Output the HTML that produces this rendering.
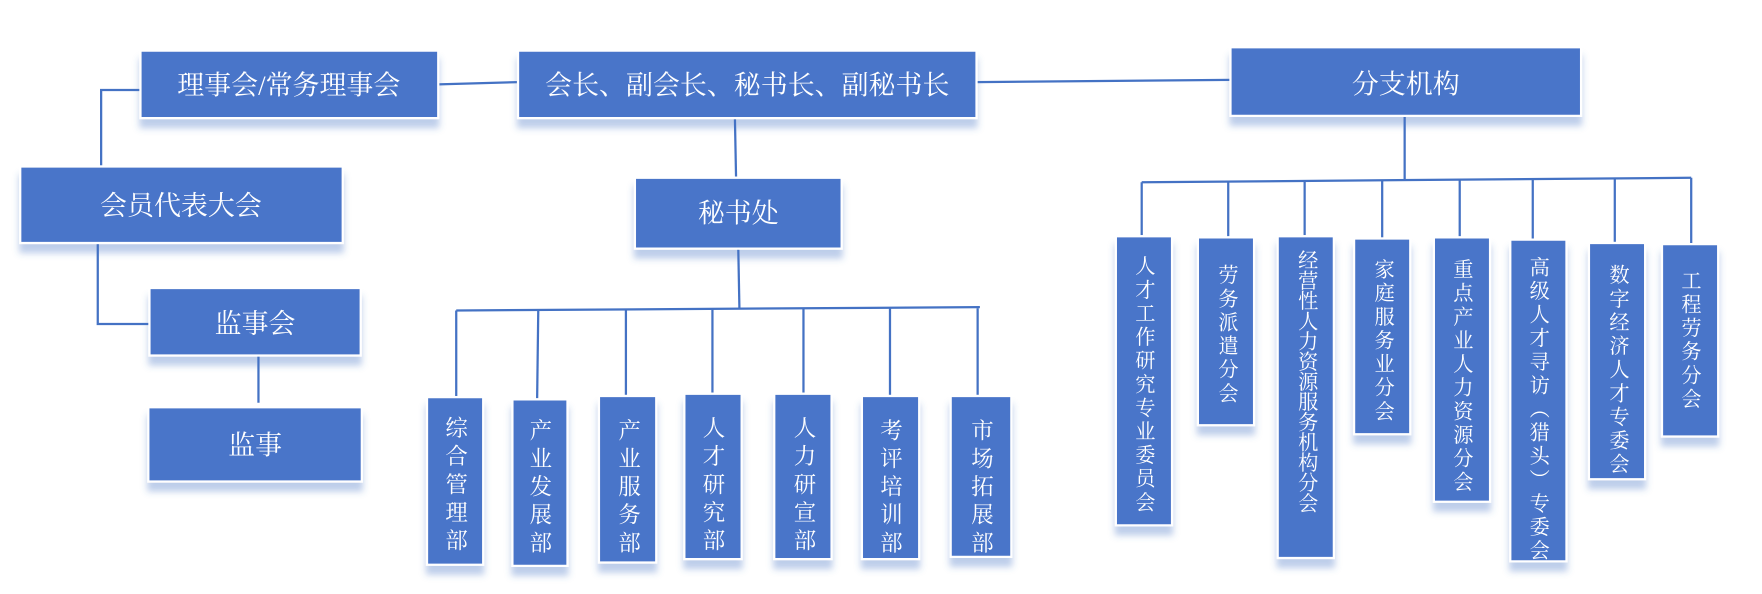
<!DOCTYPE html>
<html><head><meta charset="utf-8"><style>
html,body{margin:0;padding:0;background:#fff;}
svg{display:block;}
text{font-family:"Liberation Serif","Noto Serif CJK SC",serif;fill:#fff;}
.v{writing-mode:vertical-rl;font-size:18px;}
.d{font-size:20px;}
.h{font-size:24px;text-anchor:middle;}
</style></head><body>
<svg width="1762" height="594" viewBox="0 0 1568 528" preserveAspectRatio="none" xmlns="http://www.w3.org/2000/svg">
<defs>
<filter id="sh" x="-20%" y="-20%" width="140%" height="160%">
<feDropShadow dx="0" dy="8" stdDeviation="3" flood-color="#4472c4" flood-opacity="0.35"/>
</filter>
</defs>
<g stroke="#4472c4" stroke-width="2" fill="none">
<polyline points="125,80 90,80 90,147"/>
<polyline points="87,216 87,288 133,288"/>
<line x1="230" y1="316" x2="230" y2="358"/>
<line x1="390" y1="75" x2="461" y2="73"/>
<line x1="869" y1="73" x2="1095" y2="71"/>
<line x1="654" y1="105" x2="655" y2="157"/>
<line x1="657" y1="221" x2="658" y2="274"/>
<line x1="406" y1="276" x2="872" y2="273"/>
<line x1="406" y1="276" x2="406" y2="352"/>
<line x1="479" y1="276" x2="478" y2="354"/>
<line x1="557" y1="276" x2="557" y2="351"/>
<line x1="634" y1="275" x2="634" y2="349"/>
<line x1="715" y1="274" x2="715" y2="349"/>
<line x1="792" y1="274" x2="792" y2="351"/>
<line x1="870" y1="274" x2="870" y2="351"/>
<line x1="1250" y1="103" x2="1250" y2="160"/>
<line x1="1016" y1="162" x2="1505" y2="158"/>
<line x1="1016" y1="162" x2="1016" y2="209"/>
<line x1="1093" y1="161" x2="1093" y2="210"/>
<line x1="1161" y1="161" x2="1161" y2="209"/>
<line x1="1230" y1="160" x2="1230" y2="211"/>
<line x1="1299" y1="160" x2="1299" y2="210"/>
<line x1="1364" y1="160" x2="1364" y2="212"/>
<line x1="1437" y1="159" x2="1437" y2="215"/>
<line x1="1505" y1="158" x2="1505" y2="216"/>
</g>
<g fill="#4a74c9" stroke="#fff" stroke-width="2" filter="url(#sh)">
<rect x="125" y="45" width="265" height="60"/>
<rect x="461" y="45" width="408" height="60"/>
<rect x="1095" y="42" width="312" height="61"/>
<rect x="18" y="148" width="287" height="68"/>
<rect x="565" y="158" width="184" height="63"/>
<rect x="133" y="256" width="188" height="60"/>
<rect x="132" y="362" width="190" height="66"/>
<rect x="380" y="353" width="50" height="149"/>
<rect x="456" y="355" width="49" height="148"/>
<rect x="533" y="352" width="51" height="148"/>
<rect x="609" y="350" width="51" height="147"/>
<rect x="689" y="350" width="51" height="147"/>
<rect x="767" y="352" width="51" height="145"/>
<rect x="846" y="352" width="54" height="143"/>
<rect x="993" y="210" width="50" height="257"/>
<rect x="1066" y="211" width="50" height="167"/>
<rect x="1137" y="210" width="50" height="286"/>
<rect x="1205" y="212" width="50" height="174"/>
<rect x="1276" y="211" width="50" height="235"/>
<rect x="1344" y="213" width="50" height="286"/>
<rect x="1414" y="216" width="50" height="210"/>
<rect x="1479" y="217" width="50" height="171"/>
</g>
<text class="h" x="257" y="84">理事会/常务理事会</text>
<text class="h" x="665" y="84">会长、副会长、秘书长、副秘书长</text>
<text class="h" x="1251" y="83">分支机构</text>
<text class="h" x="161" y="191">会员代表大会</text>
<text class="h" x="657" y="198">秘书处</text>
<text class="h" x="227" y="296">监事会</text>
<text class="h" x="227" y="404">监事</text>
<g>
<text class="v d" x="405" y="370" style="letter-spacing:5px">综合管理部</text>
<text class="v d" x="480" y="372" style="letter-spacing:5px">产业发展部</text>
<text class="v d" x="559" y="372" style="letter-spacing:5px">产业服务部</text>
<text class="v d" x="634" y="370" style="letter-spacing:5px">人才研究部</text>
<text class="v d" x="715" y="370" style="letter-spacing:5px">人力研宣部</text>
<text class="v d" x="792" y="372" style="letter-spacing:5px">考评培训部</text>
<text class="v d" x="873" y="372" style="letter-spacing:5px">市场拓展部</text>
<text class="v" x="1017" y="227" style="letter-spacing:3px">人才工作研究专业委员会</text>
<text class="v" x="1091" y="235" style="letter-spacing:3px">劳务派遣分会</text>
<text class="v" x="1162" y="222" style="letter-spacing:0px">经营性人力资源服务机构分会</text>
<text class="v" x="1230" y="230" style="letter-spacing:3px">家庭服务业分会</text>
<text class="v" x="1300" y="230" style="letter-spacing:3px">重点产业人力资源分会</text>
<text class="v" x="1368" y="228" style="letter-spacing:3px">高级人才寻访（猎头）专委会</text>
<text class="v" x="1439" y="235" style="letter-spacing:3px">数字经济人才专委会</text>
<text class="v" x="1503" y="240" style="letter-spacing:3px">工程劳务分会</text>
</g>
</svg>
</body></html>
